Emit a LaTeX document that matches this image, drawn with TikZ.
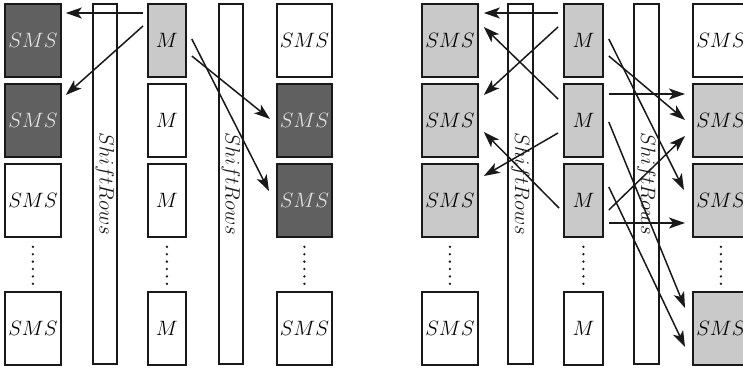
\documentclass[tikz,border=0pt]{standalone}
\usetikzlibrary{arrows.meta,calc}
\definecolor{dk}{RGB}{96,96,96}
\definecolor{lt}{RGB}{200,201,200}
\definecolor{ln}{RGB}{25,25,25}
\begin{document}
\begin{tikzpicture}[x=1pt,y=-1pt,
  cell/.style={draw=ln,line width=1.8pt,minimum height=73pt,anchor=north west,inner sep=0pt,font=\fontsize{20}{24}\selectfont},
  sms/.style={cell,minimum width=56pt},
  mm/.style={cell,minimum width=38pt},
  dark/.style={fill=dk,text=white!90!black},
  light/.style={fill=lt},
  bar/.style={draw=ln,line width=1.8pt,minimum height=360pt,minimum width=24pt,anchor=north west,inner sep=0pt},
  lbl/.style={rotate=-90,font=\fontsize{20}{24}\selectfont,text=ln},
  arr/.style={line width=1.5pt,draw=ln,-{Stealth[length=16pt,width=11pt,inset=4pt]}}]
\useasboundingbox (0,0) rectangle (743,368);
% ---------- left panel ----------
\node[sms,dark] (ls1) at (4,3) {$SMS$};
\node[sms,dark] (ls2) at (4,83) {$SMS$};
\node[sms] (ls3) at (4,163) {$SMS$};
\node[sms] (ls4) at (4,291) {$SMS$};
\node[bar] (lb1) at (92,3) {};
\node[lbl] at (lb1.center) {$ShiftRows$};
\node[mm,light] (lm1) at (147,3) {$M$};
\node[mm] (lm2) at (147,83) {$M$};
\node[mm] (lm3) at (147,163) {$M$};
\node[mm] (lm4) at (147,291) {$M$};
\node[bar] (lb2) at (218,3) {};
\node[lbl] at (lb2.center) {$ShiftRows$};
\node[sms,minimum width=55pt] (lt1) at (276,3) {$SMS$};
\node[sms,minimum width=55pt,dark] (lt2) at (276,83) {$SMS$};
\node[sms,minimum width=55pt,dark] (lt3) at (276,163) {$SMS$};
\node[sms,minimum width=55pt] (lt4) at (276,291) {$SMS$};
% ---------- right panel ----------
\node[sms,light] (rs1) at (421,3) {$SMS$};
\node[sms,light] (rs2) at (421,83) {$SMS$};
\node[sms,light] (rs3) at (421,163) {$SMS$};
\node[sms] (rs4) at (421,291) {$SMS$};
\node[bar,minimum width=25pt] (rb1) at (507,3) {};
\node[lbl] at (rb1.center) {$ShiftRows$};
\node[mm,minimum width=39pt,light] (rm1) at (563,3) {$M$};
\node[mm,minimum width=39pt,light] (rm2) at (563,83) {$M$};
\node[mm,minimum width=39pt,light] (rm3) at (563,163) {$M$};
\node[mm,minimum width=39pt] (rm4) at (563,291) {$M$};
\node[bar,minimum width=25pt] (rb2) at (633,3) {};
\node[lbl] at (rb2.center) {$ShiftRows$};
\node[sms] (rt1) at (692,3) {$SMS$};
\node[sms,light] (rt2) at (692,83) {$SMS$};
\node[sms,light] (rt3) at (692,163) {$SMS$};
\node[sms,light] (rt4) at (692,291) {$SMS$};
% ---------- dots ----------
\foreach \n in {ls3,lm3,lt3,rs3,rm3,rt3}
  \foreach \i in {0,...,5}
    \fill[ln] ($(\n.south)+(0,9+7.4*\i)$) circle (1.3);
% ---------- left panel arrows ----------
\draw[arr] ($(lm1.north west)+(-4,10)$) -- ($(ls1.north east)+(4,10)$);
\draw[arr] ($(lm1.north west)+(-4,23)$) -- ($(ls2.north east)+(4,12)$);
\draw[arr] ($(lm1.north east)+(5,36)$) -- ($(lt3.north west)+(-7,28)$);
\draw[arr] ($(lm1.north east)+(5,53)$) -- ($(lt2.north west)+(-6,36)$);
% ---------- right panel arrows ----------
\draw[arr] ($(rm1.north west)+(-5,10)$) -- ($(rs1.north east)+(5,10)$);
\draw[arr] ($(rm1.north west)+(-5,24)$) -- ($(rs2.north east)+(5,12)$);
\draw[arr] ($(rm2.north west)+(-5,16)$) -- ($(rs1.north east)+(5,24)$);
\draw[arr] ($(rm2.north west)+(-5,50)$) -- ($(rs3.north east)+(5,13)$);
\draw[arr] ($(rm3.north west)+(-4,45)$) -- ($(rs2.north east)+(5,49)$);
\draw[arr] ($(rm1.north east)+(5,36)$) -- ($(rt3.north west)+(-8,27)$);
\draw[arr] ($(rm1.north east)+(5,53)$) -- ($(rt2.north west)+(-7,37)$);
\draw[arr] ($(rm2.north east)+(5,11)$) -- ($(rt2.north west)+(-7,11)$);
\draw[arr] ($(rm2.north east)+(5,39)$) -- ($(rt4.north west)+(-7,17)$);
\draw[arr] ($(rm3.north east)+(5,47)$) -- ($(rt2.north west)+(-7,53)$);
\draw[arr] ($(rm3.north east)+(5,60)$) -- ($(rt3.north west)+(-7,60)$);
\draw[arr] ($(rm3.north east)+(5,24)$) -- ($(rt4.north west)+(-7,56)$);
\end{tikzpicture}
\end{document}
